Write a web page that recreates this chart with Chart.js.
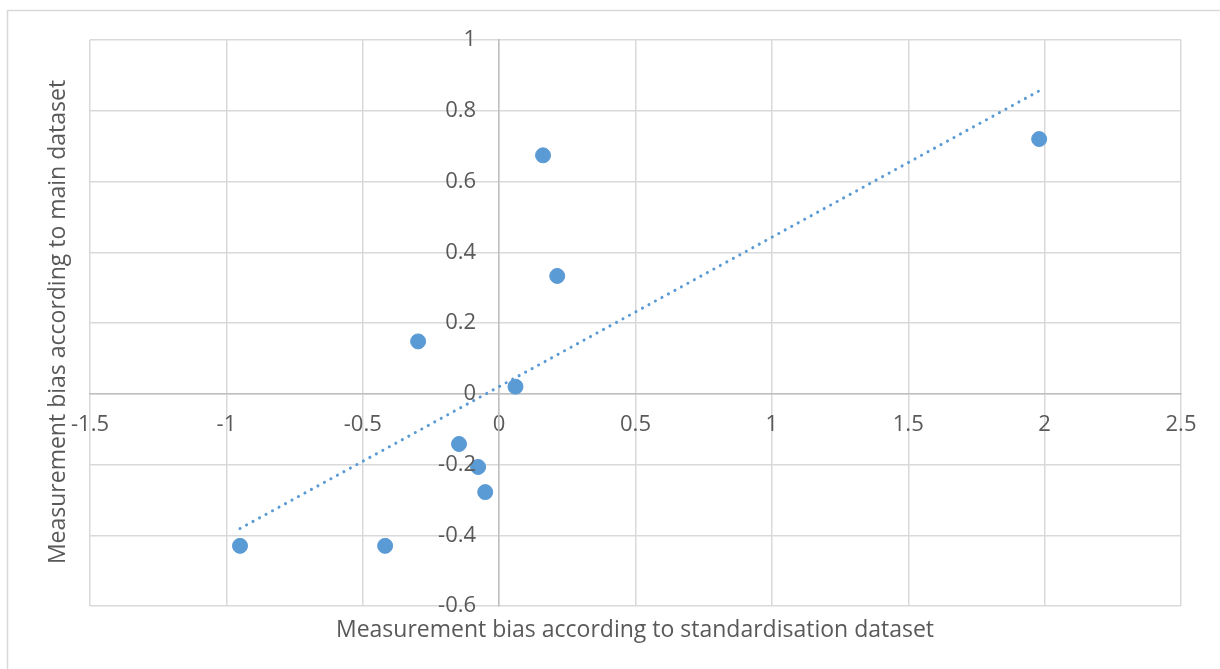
<!DOCTYPE html>
<html>
<head>
<meta charset="utf-8">
<script src="https://cdn.jsdelivr.net/npm/chart.js@4"></script>
<style>
  html, body { margin: 0; padding: 0; background: #fff; }
  #wrap { position: relative; width: 1220px; height: 669px; }
</style>
</head>
<body>
<div id="wrap"><canvas id="chart" width="1220" height="669"></canvas></div>
<script>
// values
const biasStandard = [-0.95, -0.418, -0.297, -0.147, -0.077, -0.051, 0.06, 0.161, 0.213, 1.98];
const biasMain = [-0.43, -0.43, 0.148, -0.142, -0.207, -0.278, 0.02, 0.674, 0.333, 0.72];
const trendX = [-0.95, 1.977];
const trendY = [-0.381, 0.855];
const xTitle = 'Measurement bias according to standardisation dataset';
const yTitle = 'Measurement bias according to main dataset';

const textColor = '#595959';
const gridColor = '#d9d9d9';
const fontFamily = '"Open Sans", sans-serif';

const points = biasStandard.map((x, i) => ({x, y: biasMain[i]}));
const trend = trendX.map((x, i) => ({x, y: trendY[i]}));

const fmt = v => String(Math.round(v * 10) / 10);

const frameAndTitles = {
    id: 'frameAndTitles',
    beforeDraw(c) {
        const ctx = c.ctx;
        ctx.save();
        ctx.fillStyle = '#fff';
        ctx.fillRect(0, 0, c.width, c.height);
        ctx.strokeStyle = gridColor;
        ctx.lineWidth = 1.5;
        ctx.strokeRect(7.5, 10.5, 1400, 900);
        ctx.restore();
    },
    afterDraw(c) {
        const ctx = c.ctx;
        ctx.save();
        ctx.fillStyle = textColor;

        // y tick labels sit left of the y axis (which crosses at x = 0)
        const xs = c.scales.x, ys = c.scales.y;
        const axisX = xs.getPixelForValue(0);
        ctx.font = '22px ' + fontFamily;
        ctx.textAlign = 'right';
        ctx.textBaseline = 'middle';
        ys.ticks.forEach(t => {
            ctx.fillText(fmt(t.value), axisX - 23, ys.getPixelForValue(t.value));
        });

        ctx.font = '23px ' + fontFamily;
        ctx.textAlign = 'center';
        ctx.textBaseline = 'alphabetic';
        ctx.fillText(xTitle, 635, 637);
        ctx.translate(65, 322);
        ctx.rotate(-Math.PI / 2);
        ctx.fillText(yTitle, 0, 0);
        ctx.restore();
    }
};

new Chart(document.getElementById('chart'), {
    type: 'scatter',
    data: {
        datasets: [{
            label: 'bias',
            data: points,
            backgroundColor: '#5b9bd5',
            borderColor: '#5b9bd5',
            pointRadius: 7.5,
            pointHoverRadius: 7.5,
            order: 1
        }, {
            type: 'line',
            label: 'trend',
            data: trend,
            borderColor: '#5b9bd5',
            borderWidth: 3,
            borderDash: [0.1, 7.3],
            borderCapStyle: 'round',
            pointRadius: 0,
            fill: false,
            order: 2
        }]
    },
    options: {
        responsive: false,
        animation: false,
        layout: { padding: { left: 90, top: 40, right: 39, bottom: 63 } },
        plugins: { legend: { display: false }, tooltip: { enabled: false } },
        scales: {
            x: {
                type: 'linear',
                position: { y: 0 },
                min: -1.5, max: 2.5,
                ticks: { stepSize: 0.5, color: textColor, font: { size: 22, family: fontFamily }, padding: 18,
                    maxRotation: 0, autoSkip: false, callback: fmt },
                grid: { color: gridColor, lineWidth: 1.5, drawTicks: false },
                border: { color: '#bfbfbf', width: 1.5 }
            },
            y: {
                type: 'linear',
                position: { x: 0 },
                min: -0.6, max: 1,
                ticks: { stepSize: 0.2, display: false, autoSkip: false },
                grid: { color: gridColor, lineWidth: 1.5, drawTicks: false },
                border: { color: '#bfbfbf', width: 1.5 }
            }
        }
    },
    plugins: [frameAndTitles]
});
</script>
</body>
</html>
